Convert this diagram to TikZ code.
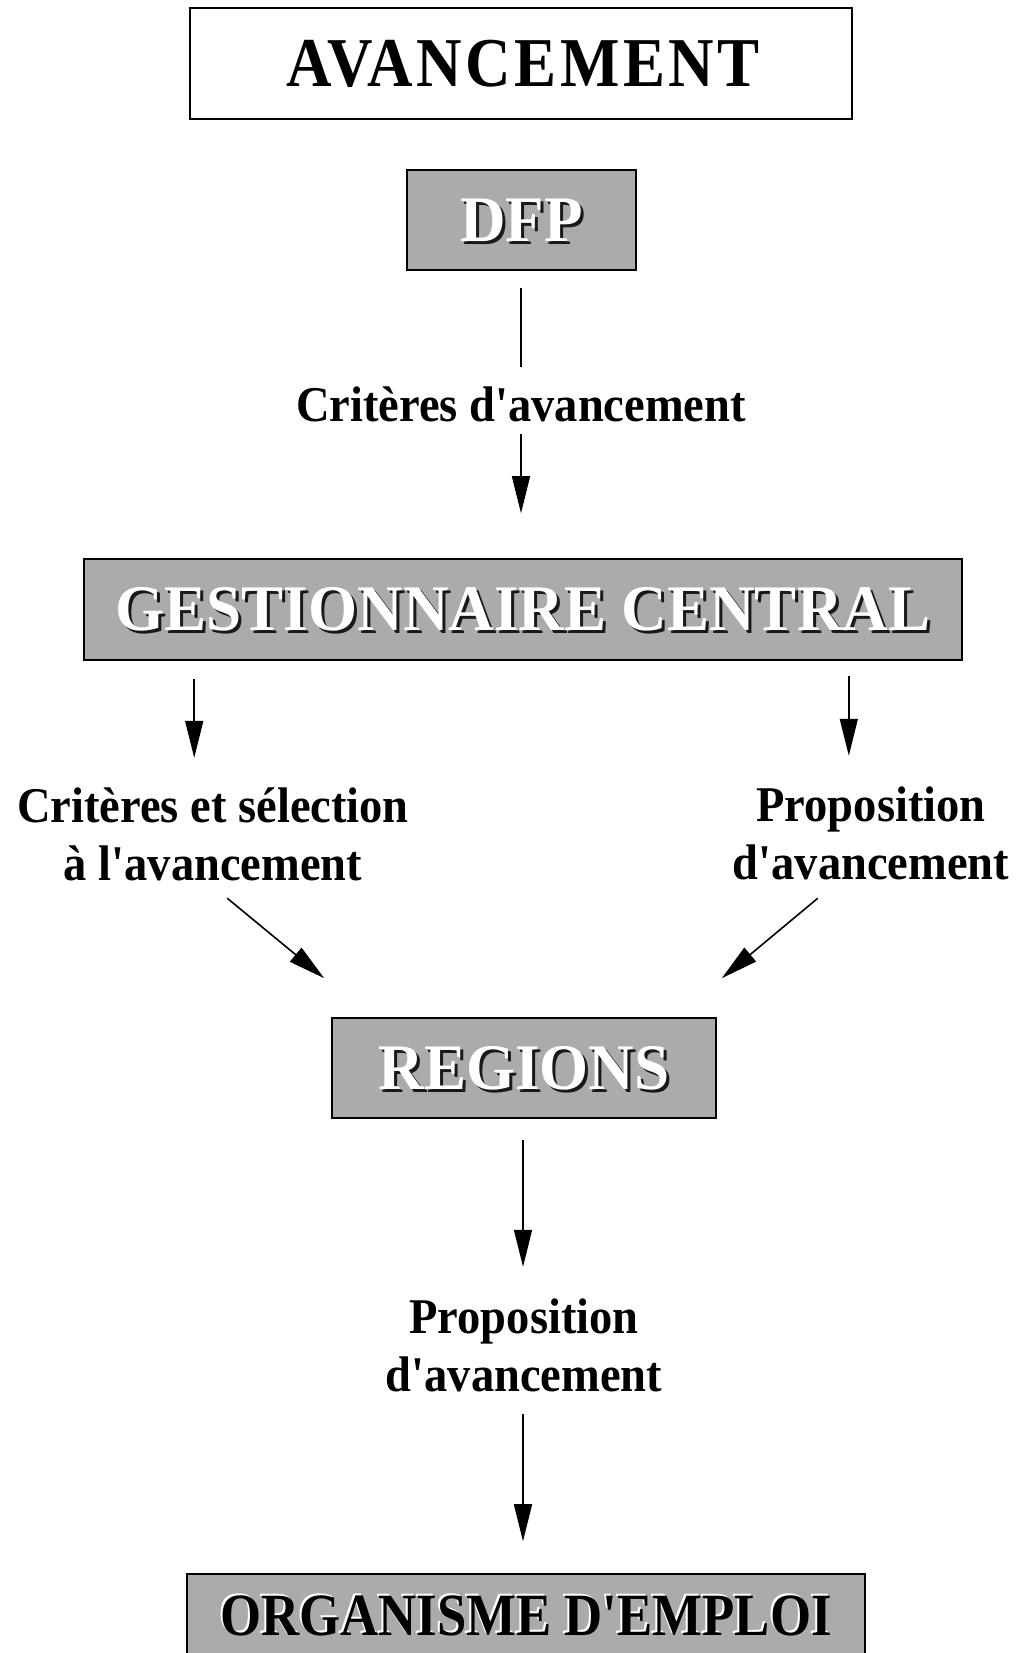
\documentclass[tikz,border=0pt]{standalone}
\usepackage{fontspec}
\setmainfont{Liberation Serif}
\newfontfamily\condfont[FakeStretch=0.93]{Liberation Serif}
\newfontfamily\narrowfont[FakeStretch=0.88]{Liberation Serif}
\newfontfamily\titlefont[FakeStretch=0.9,LetterSpace=5]{Liberation Serif}
\newfontfamily\boxletters[FakeStretch=0.97]{Liberation Serif}
\usetikzlibrary{arrows.meta,calc}

\tikzset{
  plainbox/.style={draw, line width=1.6pt, fill=white, inner sep=0pt},
  shadedbox/.style={draw, line width=1.6pt, fill=black!33, inner sep=0pt},
  boxfont/.style={font=\boxletters\fontsize{65}{70}\selectfont\bfseries, inner sep=0pt},
  whiteletters/.style={boxfont, text=white},
  darkshadow/.style={boxfont, text=black!90},
  labeltext/.style={font=\condfont\fontsize{50}{58}\selectfont\bfseries, inner sep=0pt, align=center},
  flow/.style={line width=1.6pt, -{Triangle[length=37pt,width=18pt]}},
  plainline/.style={line width=1.6pt},
}

\begin{document}
\begin{tikzpicture}[x=1pt,y=-1pt]
\useasboundingbox (0,0) rectangle (1023,1653);

% title
\node[plainbox, minimum width=662pt, minimum height=111pt] (avbox) at (521,63.5) {};
\node[font=\titlefont\fontsize{70}{74}\selectfont\bfseries, inner sep=0pt] (avtext) at ($(avbox.center)+(2,0)$) {AVANCEMENT};

% DFP
\node[shadedbox, minimum width=229pt, minimum height=100pt] (dfp) at (521.5,220) {};
\node[darkshadow] (dfpshadow) at ($(dfp.center)+(3,3)$) {DFP};
\node[whiteletters] (dfptext) at (dfp.center) {DFP};

% label between DFP and central manager
\node[labeltext] (lab1) at (521,404) {Critères d'avancement};

% central manager
\node[shadedbox, minimum width=878pt, minimum height=101pt] (gc) at (523,609.5) {};
\node[darkshadow] (gcshadow) at ($(gc.center)+(3,3)$) {GESTIONNAIRE CENTRAL};
\node[whiteletters] (gctext) at (gc.center) {GESTIONNAIRE CENTRAL};

% side labels
\node[labeltext] (labL) at (213,834) {Critères et sélection\\à l'avancement};
\node[labeltext] (labR) at (871,833) {Proposition\\d'avancement};

% regions
\node[shadedbox, minimum width=384pt, minimum height=100pt] (regions) at (524,1068) {};
\node[darkshadow] (regshadow) at ($(regions.center)+(3,3)$) {REGIONS};
\node[whiteletters] (regtext) at (regions.center) {REGIONS};

% label between regions and employer
\node[labeltext] (lab3) at (524,1345) {Proposition\\d'avancement};

% employer (runs past the lower edge)
\node[shadedbox, minimum width=678pt, minimum height=110pt] (org) at (526,1629) {};
\node[font=\narrowfont\fontsize{60}{64}\selectfont\bfseries, inner sep=0pt, text=white] (orglight) at ($(org.north)+(-2,41)$) {ORGANISME D'EMPLOI};
\node[font=\narrowfont\fontsize{60}{64}\selectfont\bfseries, inner sep=0pt, text=black] (orgtext) at ($(org.north)+(0,43)$) {ORGANISME D'EMPLOI};

% connectors
\draw[plainline] ($(dfp.south)+(-0.5,17)$) -- ($(lab1.north)+(0,-19)$);
\draw[flow] ($(lab1.south)+(0,12)$) -- ($(gc.north)+(-2,-45)$);

\draw[flow] ($(gc.south west)+(111,18)$) -- ++(0,79);
\draw[flow] ($(gc.south east)+(-114,15)$) -- ++(0,80);

\draw[flow] ($(regions.north west)+(-104,-119)$) -- ++(97,80);
\draw[flow] ($(regions.north east)+(101,-119)$) -- ++(-96,80);

\draw[flow] ($(regions.south)+(-1,21)$) -- ++(0,127);
\draw[flow] ($(org.north)+(-3,-159)$) -- ++(0,127);
\end{tikzpicture}
\end{document}
